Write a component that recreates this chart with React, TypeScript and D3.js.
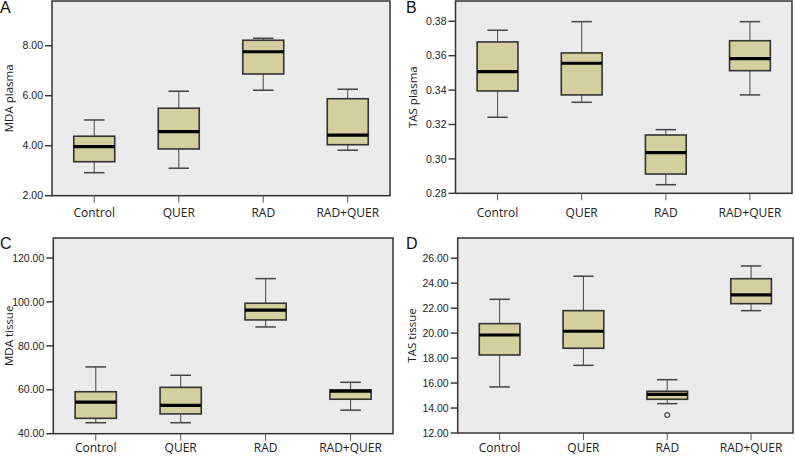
import React from "react";
import * as d3 from "d3";

const categories = ["Control", "QUER", "RAD", "RAD+QUER"];

// [min, q1, median, q3, max] per category
const mdaPlasmaStats = [
  [2.92, 3.36, 3.96, 4.38, 5.03],
  [3.1, 3.87, 4.56, 5.5, 6.18],
  [6.22, 6.87, 7.76, 8.22, 8.3],
  [3.82, 4.04, 4.42, 5.88, 6.26],
];
const tasPlasmaStats = [
  [0.3242, 0.3395, 0.3507, 0.368, 0.3748],
  [0.3329, 0.3372, 0.3556, 0.3616, 0.3798],
  [0.285, 0.2912, 0.3036, 0.3139, 0.317],
  [0.3372, 0.3513, 0.3583, 0.3687, 0.3798],
];
const mdaTissueStats = [
  [45.0, 47.0, 54.4, 59.1, 70.4],
  [45.0, 49.0, 52.9, 61.1, 66.6],
  [88.6, 91.8, 96.3, 99.4, 110.6],
  [50.7, 55.7, 59.4, 59.9, 63.4],
];
const tasTissueStats = [
  [15.69, 18.25, 19.85, 20.76, 22.71],
  [17.42, 18.79, 20.15, 21.8, 24.56],
  [14.35, 14.7, 15.1, 15.34, 16.27],
  [21.8, 22.36, 23.06, 24.36, 25.38],
];
const tasTissueOutliers = [{ category: "RAD", value: 13.44 }];

const mdaPlasmaTicks = [2, 4, 6, 8];
const tasPlasmaTicks = [0.28, 0.3, 0.32, 0.34, 0.36, 0.38];
const mdaTissueTicks = [40, 60, 80, 100, 120];
const tasTissueTicks = [12, 14, 16, 18, 20, 22, 24, 26];

const panels = [
  { letter: "A", title: "MDA plasma", stats: mdaPlasmaStats, ticks: mdaPlasmaTicks, outliers: [] as { category: string; value: number }[],
    left: 52, right: 390, top: 1, bottom: 195.7, yMax: 9.79, letterX: 0, letterY: 13, titleX: 12.5, labelY: 217 },
  { letter: "B", title: "TAS plasma", stats: tasPlasmaStats, ticks: tasPlasmaTicks, outliers: [] as { category: string; value: number }[],
    left: 455.5, right: 792, top: 1, bottom: 193.3, yMax: 0.3918, letterX: 406, letterY: 13, titleX: 417, labelY: 217 },
  { letter: "C", title: "MDA tissue", stats: mdaTissueStats, ticks: mdaTissueTicks, outliers: [] as { category: string; value: number }[],
    left: 53.3, right: 393, top: 238, bottom: 433.7, yMax: 129.1, letterX: 0, letterY: 249, titleX: 12.5, labelY: 452 },
  { letter: "D", title: "TAS tissue", stats: tasTissueStats, ticks: tasTissueTicks, outliers: tasTissueOutliers,
    left: 457.7, right: 793, top: 238, bottom: 433, yMax: 27.62, letterX: 406, letterY: 249, titleX: 416, labelY: 452 },
];

const fmt = d3.format(".2f");
const FONT = "'Open Sans', 'Liberation Sans', sans-serif";
const TICK_FONT = "'Liberation Sans', Arial, sans-serif";

function Panel({ p }: { p: (typeof panels)[number] }) {
  const x = d3.scaleBand<string>().domain(categories).range([p.left, p.right]).padding(0);
  const y = d3.scaleLinear().domain([p.ticks[0], p.yMax]).range([p.bottom, p.top]);
  const bw = x.bandwidth();
  const boxW = bw * 0.485;
  const capW = boxW * 0.5;
  const midY = (p.top + p.bottom) / 2;
  return (
    <g>
      <rect x={p.left} y={p.top} width={p.right - p.left} height={p.bottom - p.top} fill="#ebebeb" />
      {categories.map((c, i) => {
        const [mn, q1, md, q3, mx] = p.stats[i];
        const cx = (x(c) as number) + bw / 2;
        return (
          <g key={c}>
            <line x1={cx} x2={cx} y1={y(mx)} y2={y(q3)} stroke="#555" strokeWidth={1.1} />
            <line x1={cx} x2={cx} y1={y(q1)} y2={y(mn)} stroke="#555" strokeWidth={1.1} />
            <line x1={cx - capW / 2} x2={cx + capW / 2} y1={y(mx)} y2={y(mx)} stroke="#444" strokeWidth={1.5} />
            <line x1={cx - capW / 2} x2={cx + capW / 2} y1={y(mn)} y2={y(mn)} stroke="#444" strokeWidth={1.5} />
            <rect x={cx - boxW / 2} y={y(q3)} width={boxW} height={y(q1) - y(q3)} fill="#d4cf9e" stroke="#333" strokeWidth={1.6} />
            <line x1={cx - boxW / 2} x2={cx + boxW / 2} y1={y(md)} y2={y(md)} stroke="#000" strokeWidth={3.2} />
          </g>
        );
      })}
      {p.outliers.map((o, i) => (
        <circle key={i} cx={(x(o.category) as number) + bw / 2} cy={y(o.value)} r={2.4} fill="none" stroke="#555" strokeWidth={1.3} />
      ))}
      <rect x={p.left} y={p.top} width={p.right - p.left} height={p.bottom - p.top} fill="none" stroke="#333" strokeWidth={1.5} />
      {p.ticks.map((t) => (
        <g key={t}>
          <line x1={p.left - 7} x2={p.left} y1={y(t)} y2={y(t)} stroke="#333" strokeWidth={1.4} />
          <text x={p.left - 9} y={y(t)} dy="0.35em" textAnchor="end" fontSize={10.5} fill="#222" fontFamily={TICK_FONT}>
            {fmt(t)}
          </text>
        </g>
      ))}
      {categories.map((c) => {
        const cx = (x(c) as number) + bw / 2;
        return (
          <g key={c}>
            <line x1={cx} x2={cx} y1={p.bottom} y2={p.bottom + 7} stroke="#555" strokeWidth={1} />
            <text x={cx} y={p.labelY} textAnchor="middle" fontSize={12} fill="#222" fontFamily={FONT}>
              {c}
            </text>
          </g>
        );
      })}
      <text transform={`translate(${p.titleX},${midY}) rotate(-90)`} textAnchor="middle" fontSize={11.5} fill="#222" fontFamily={FONT}>
        {p.title}
      </text>
      <text x={p.letterX} y={p.letterY} fontSize={16} fill="#111" fontFamily="'Liberation Sans', Arial, sans-serif">
        {p.letter}
      </text>
    </g>
  );
}

export default function App() {
  return (
    <svg width={795} height={457} style={{ position: "absolute", left: 0, top: 0, background: "#fff" }}>
      <rect width={795} height={457} fill="#fff" />
      {panels.map((p) => (
        <Panel key={p.letter} p={p} />
      ))}
    </svg>
  );
}
